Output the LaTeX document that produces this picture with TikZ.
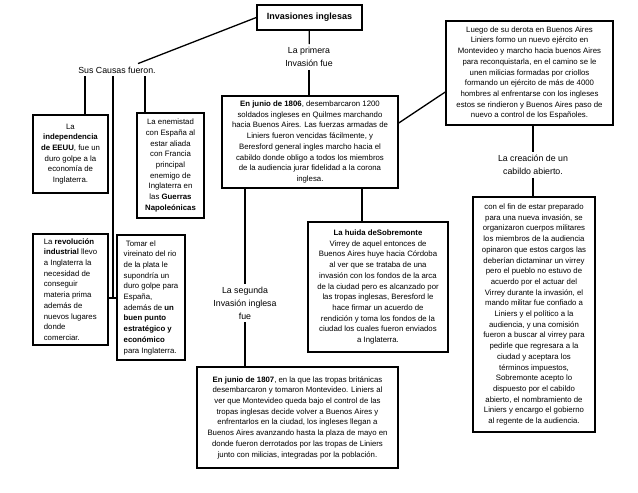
\documentclass[tikz,border=0pt]{standalone}
\usepackage{fontspec}
\setmainfont{Liberation Sans}
\usepackage{tikz}
\usetikzlibrary{positioning}

\begin{document}
\begin{tikzpicture}[x=1pt, y=-1pt,
            caja/.style={draw, line width=1.4pt, align=center, inner sep=2pt, font=\fontsize{7.8}{10.7}\selectfont},
            etiqueta/.style={align=center, inner sep=3pt, font=\fontsize{8.8}{13}\selectfont},
            enlace/.style={line width=1.3pt}
        ]
            \useasboundingbox (0,0) rectangle (638,493);
            % titulo y causas
            \node[caja, font={\bfseries\fontsize{9}{11}\selectfont}, minimum width=105pt, minimum height=25pt] (titulo) at (309.5,17.5) {Invasiones inglesas};
            \node[etiqueta] (causas) at (117,70) {Sus Causas fueron.};
            \node[etiqueta] (primera) at (309,57) {La primera\\Invasión fue};
            \node[caja, minimum width=75pt, minimum height=78pt] (independencia) at (70.5,154) {La\\\textbf{independencia}\\\textbf{de EEUU}, fue un\\duro golpe a la\\economía de\\Inglaterra.};
            \node[caja, minimum width=67pt, minimum height=105pt] (enemistad) at (170.5,165.5) {La enemistad\\con España al\\estar aliada\\con Francia\\principal\\enemigo de\\Inglaterra en\\las \textbf{Guerras}\\\textbf{Napoleónicas}};
            \node[caja, align=left, minimum width=75pt, minimum height=111pt] (revolucion) at (70.5,289.5) {La \textbf{revolución}\\\textbf{industrial} llevo\\a Inglaterra la\\necesidad de\\conseguir\\materia prima\\además de\\nuevos lugares\\donde\\comerciar.};
            \node[caja, align=left, minimum width=68pt, minimum height=125pt] (tomar) at (151,297.5) {\ Tomar el\\vireinato del rio\\de la plata le\\supondría un\\duro golpe para\\España,\\además de \textbf{un}\\\textbf{buen punto}\\\textbf{estratégico y}\\\textbf{económico}\\para Inglaterra.};
            \coordinate (rama) at (113,298);
            % primera invasion
            \node[caja, minimum width=176pt, minimum height=92pt] (b1806) at (310,142) {\textbf{En junio de 1806}, desembarcaron 1200\\soldados ingleses en Quilmes marchando\\hacia Buenos Aires. Las fuerzas armadas de\\Liniers fueron vencidas fácilmente, y\\Beresford general ingles marcho hacia el\\cabildo donde obligo a todos los miembros\\de la audiencia jurar fidelidad a la corona\\inglesa.};
            \node[caja, minimum width=167pt, minimum height=104pt] (luego) at (529.5,73) {Luego de su derota en Buenos Aires\\Liniers formo un nuevo ejército en\\Montevideo y marcho hacia buenos Aires\\para reconquistarla, en el camino se le\\unen milicias formadas por criollos\\formando un ejército de más de 4000\\hombres al enfrentarse con los ingleses\\estos se rindieron y Buenos Aires paso de\\nuevo a control de los Españoles.};
            \node[caja, minimum width=140pt, minimum height=130pt] (sobremonte) at (378,287) {\textbf{La huida deSobremonte}\\Virrey de aquel entonces de\\Buenos Aires huye hacia Córdoba\\al ver que se trataba de una\\invasión con los fondos de la arca\\de la ciudad pero es alcanzado por\\las tropas inglesas, Beresford le\\hace firmar un acuerdo de\\rendición y toma los fondos de la\\ciudad los cuales fueron enviados\\a Inglaterra.};
            \node[etiqueta] (creacion) at (533,165) {La creación de un\\cabildo abierto.};
            \node[caja, minimum width=122pt, minimum height=235pt] (cabildo) at (534,314.5) {con el fin de estar preparado\\para una nueva invasión, se\\organizaron cuerpos militares\\los miembros de la audiencia\\opinaron que estos cargos las\\deberían dictaminar un virrey\\pero el pueblo no estuvo de\\acuerdo por el actuar del\\Virrey durante la invasión, el\\mando militar fue confiado a\\Liniers y el político a la\\audiencia, y una comisión\\fueron a buscar al virrey para\\pedirle que regresara a la\\ciudad y aceptara los\\términos impuestos,\\Sobremonte acepto lo\\dispuesto por el cabildo\\abierto, el nombramiento de\\Liniers y encargo el gobierno\\al regente de la audiencia.};
            % segunda invasion
            \node[etiqueta] (segunda) at (245,303) {La segunda\\Invasión inglesa\\fue};
            \node[caja, minimum width=201pt, minimum height=101pt] (b1807) at (297.5,417.5) {\textbf{En junio de 1807}, en la que las tropas británicas\\desembarcaron y tomaron Montevideo. Liniers al\\ver que Montevideo queda bajo el control de las\\tropas inglesas decide volver a Buenos Aires y\\enfrentarlos en la ciudad, los ingleses llegan a\\Buenos Aires avanzando hasta la plaza de mayo en\\donde fueron derrotados por las tropas de Liniers\\junto con milicias, integradas por la población.};
            % conectores
            \draw[enlace] (titulo.west) -- ([xshift=21pt]causas.north);
            \draw[enlace] (titulo) -- (primera);
            \draw[enlace] (primera.south) -- (primera.south |- b1806.north);
            \draw[enlace] ([xshift=14.5pt]independencia.north |- causas.south) -- ([xshift=14.5pt]independencia.north);
            \draw[enlace] ([xshift=-25.5pt]enemistad.north |- causas.south) -- ([xshift=-25.5pt]enemistad.north);
            \draw[enlace] (causas.south -| rama) -- (rama);
            \draw[enlace] (revolucion.east |- rama) -- (tomar.west |- rama);
            \draw[enlace] ([yshift=19pt]b1806.east) -- ([yshift=-19pt]luego.west);
            \draw[enlace] (b1806.south -| segunda) -- (segunda);
            \draw[enlace] (segunda) -- (segunda |- b1807.north);
            \draw[enlace] ([xshift=-16pt]sobremonte.north |- b1806.south) -- ([xshift=-16pt]sobremonte.north);
            \draw[enlace] (luego.south -| creacion) -- (creacion);
            \draw[enlace] (creacion) -- (creacion |- cabildo.north);
        \end{tikzpicture}
\end{document}
